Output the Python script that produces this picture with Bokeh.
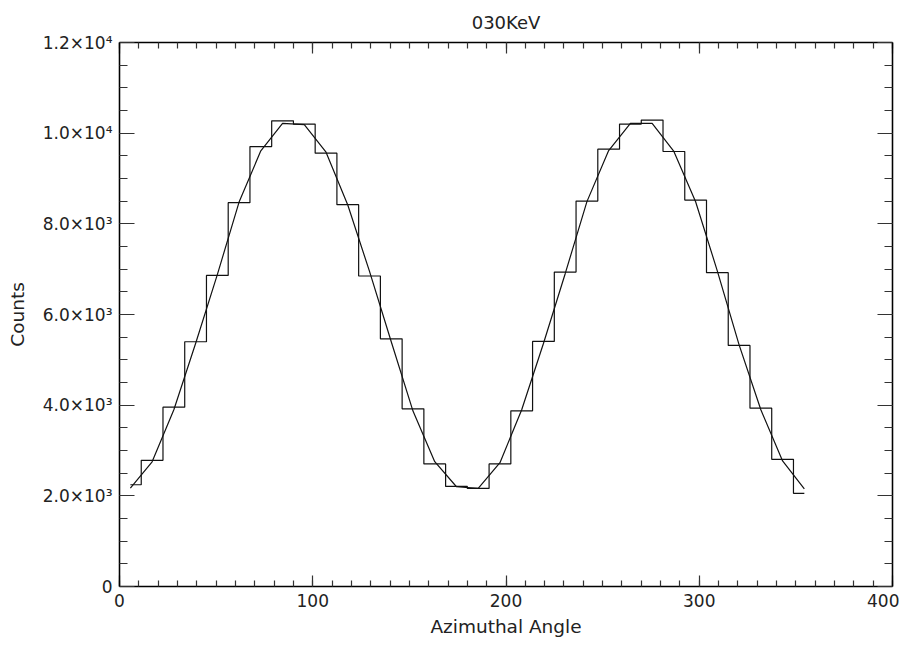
from bokeh.plotting import figure
from bokeh.models import Range1d, FixedTicker, LinearAxis
from bokeh.embed import file_html
from bokeh.resources import INLINE

# ---- data ----
angles = [5.625, 16.875, 28.125, 39.375, 50.625, 61.875, 73.125, 84.375,
          95.625, 106.875, 118.125, 129.375, 140.625, 151.875, 163.125, 174.375,
          185.625, 196.875, 208.125, 219.375, 230.625, 241.875, 253.125, 264.375,
          275.625, 286.875, 298.125, 309.375, 320.625, 331.875, 343.125, 354.375]
counts = [2245, 2783, 3956, 5399, 6863, 8466, 9705, 10273,
          10200, 9559, 8422, 6849, 5464, 3920, 2703, 2208,
          2164, 2703, 3876, 5406, 6936, 8503, 9646, 10200,
          10288, 9596, 8525, 6922, 5318, 3934, 2805, 2055]
fit = [2170, 2750, 3900, 5360, 6880, 8480, 9610, 10214,
       10190, 9580, 8415, 6950, 5400, 3870, 2754, 2200,
       2164, 2732, 3898, 5360, 6900, 8490, 9617, 10214,
       10214, 9596, 8488, 6958, 5330, 3898, 2769, 2155]

x_major = [0, 100, 200, 300, 400]
x_minor = list(range(0, 401, 10))
y_major = [0, 2000, 4000, 6000, 8000, 10000, 12000]
y_minor = list(range(0, 12001, 500))
y_labels = ["0", "2.0×10³", "4.0×10³", "6.0×10³", "8.0×10³", "1.0×10⁴", "1.2×10⁴"]

title_text = "030KeV"
x_title = "Azimuthal Angle"
y_title = "Counts"

FONT = "DejaVu Sans"
TXT = "#222222"

p = figure(width=899, height=639, output_backend="svg", toolbar_location=None,
           x_range=Range1d(0, 400), y_range=Range1d(0, 12000),
           min_border_left=119, min_border_right=7, min_border_top=41,
           min_border_bottom=49, title=title_text)

p.title.align = "center"
p.title.text_font = FONT
p.title.text_font_size = "18px"
p.title.text_font_style = "normal"
p.title.text_color = TXT
p.title.standoff = 19

p.grid.visible = False
p.outline_line_color = "black"
p.outline_line_width = 1.2
p.background_fill_color = "white"
p.border_fill_color = "white"


def style_axis(ax, major, minor, tin, min_in, labels=True):
    ax.ticker = FixedTicker(ticks=major, minor_ticks=minor)
    ax.major_tick_in = tin
    ax.major_tick_out = 0
    ax.minor_tick_in = min_in
    ax.minor_tick_out = 0
    ax.axis_line_color = "black"
    ax.axis_line_width = 1.4
    ax.major_tick_line_color = "#333333"
    ax.major_tick_line_width = 1.2
    ax.minor_tick_line_color = "#333333"
    ax.minor_tick_line_width = 1.2
    ax.major_label_text_font = FONT
    ax.major_label_text_font_size = "17px" if labels else "1px"
    ax.major_label_text_color = TXT
    ax.axis_label_text_font = FONT
    ax.axis_label_text_font_size = "18.5px"
    ax.axis_label_text_font_style = "normal"
    ax.axis_label_text_color = TXT
    if not labels:
        ax.major_label_overrides = {v: "" for v in major}
        ax.major_label_standoff = 0


xa = p.xaxis[0]
style_axis(xa, x_major, x_minor, 11, 6)
xa.axis_label = x_title
xa.major_label_standoff = 7
xa.axis_label_standoff = 6

ya = p.yaxis[0]
style_axis(ya, y_major, y_minor, 15, 8)
ya.axis_label = y_title
ya.major_label_standoff = 7
ya.axis_label_standoff = 12
ya.major_label_overrides = {v: s for v, s in zip(y_major, y_labels)}

top = LinearAxis()
style_axis(top, x_major, x_minor, 11, 6, labels=False)
p.add_layout(top, "above")

right = LinearAxis()
style_axis(right, y_major, y_minor, 15, 8, labels=False)
p.add_layout(right, "right")

p.step(angles, counts, mode="center", line_color="#111111", line_width=1.2)
p.line(angles, fit, line_color="#111111", line_width=1.2)

open("out.html", "w").write(file_html(p, INLINE))
